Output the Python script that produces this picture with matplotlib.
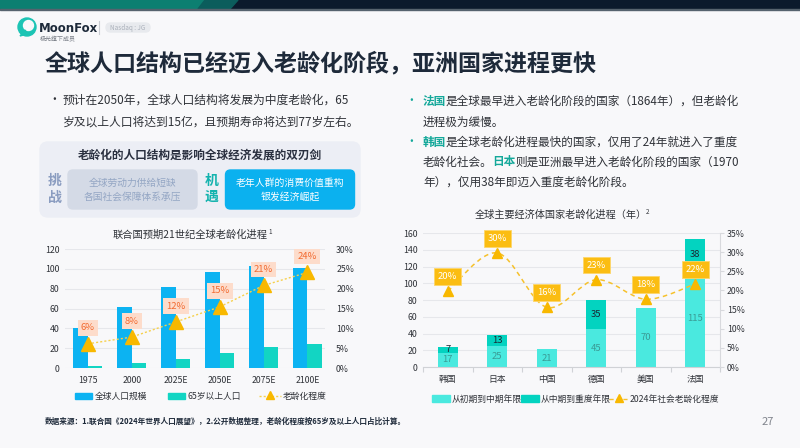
import numpy as np
import matplotlib.pyplot as plt
from matplotlib.patches import Rectangle, FancyBboxPatch, Polygon, Circle, PathPatch
from matplotlib.path import Path
from matplotlib.ticker import FuncFormatter

plt.rcParams['font.family'] = ['Noto Sans CJK SC', 'DejaVu Sans']
plt.rcParams['axes.unicode_minus'] = False

#%% Data

# left chart: UN outlook (population in 亿, ratio in %)
years = ['1975', '2000', '2025E', '2050E', '2075E', '2100E']
world_pop = [40, 62, 82, 97, 103, 101]
pop_65 = [2.4, 4.8, 9.2, 14.8, 21.2, 24.3]
aging_rate = [6.1, 7.8, 11.6, 15.4, 20.8, 24.1]

# right chart: years from stage to stage, 2024 aging ratio in %
countries = ['韩国', '日本', '中国', '德国', '美国', '法国']
early_to_mid = [17, 25, 21, 45, 70, 115]
mid_to_severe = [7, 13, 0, 35, 0, 38]
aging_2024 = [19.8, 29.8, 15.6, 22.8, 17.7, 21.7]

#%% Colours

dark = '#1e2a3a'
text_col = '#2f3238'
teal_txt = '#14a89a'
blue = '#0cb3f2'
green = '#12d5c3'
light_turq = '#4ae9df'
dark_turq = '#03d3c0'
amber = '#f8b800'
grid_col = '#e6e7eb'

chart_fs = 6.3

#%% Figure and pixel-coordinate background

W, H = 800, 448
fig = plt.figure(figsize=(W / 100, H / 100), dpi=100)
fig.patch.set_facecolor('#f8f8fa')
bg = fig.add_axes([0, 0, 1, 1])
bg.set_xlim(0, W)
bg.set_ylim(H, 0)
bg.axis('off')


def px_axes(x0, y0, x1, y1):
    # axes rectangle from pixel corners (top-left origin)
    return fig.add_axes([x0 / W, 1 - y1 / H, (x1 - x0) / W, (y1 - y0) / H])


# top bar
bg.add_patch(Rectangle((0, 0), W, 9, color='#0b1a2c', zorder=1))
bg.add_patch(Polygon([(0, 0), (205, 0), (198, 9), (0, 9)], closed=True,
                     color='#0c7f71', zorder=2))
bg.add_patch(Polygon([(205, 0), (238, 0), (230, 9), (198, 9)], closed=True,
                     color='#0b5d5c', zorder=2))
bg.add_patch(Rectangle((0, 9), W, 1.2, color='#56636e', zorder=2))

# logo
bg.add_patch(Circle((27, 27), 9, color='#1cc4b4', zorder=3))
bg.add_patch(Circle((28.5, 25.5), 5, color='#f8f8fa', zorder=4))
bg.add_patch(Polygon([(20, 36), (25, 30), (27, 34)], closed=True,
                     color='#1cc4b4', zorder=4))
bg.text(39, 28, 'MoonFox', fontsize=8.5, fontweight='bold', color=dark,
        va='center', ha='left', family=['DejaVu Sans'])
bg.text(40, 39.5, '极光旗下成员', fontsize=4.3, color='#777c85',
        va='center', ha='left')
bg.plot([98.5, 98.5], [21, 34], color='#c9ccd2', lw=0.8)
bg.add_patch(FancyBboxPatch((106, 23), 44, 9,
                            boxstyle='round,pad=0,rounding_size=4.5',
                            color='#e8eaee', zorder=3))
bg.text(128, 27.7, 'Nasdaq : JG', fontsize=4.6, color='#aab0ba',
        va='center', ha='center', zorder=4)

# title
bg.text(45, 63, '全球人口结构已经迈入老龄化阶段，亚洲国家进程更快',
        fontsize=16.6, fontweight='bold', color=dark, va='center', ha='left')

#%% Left text block

bg.text(48, 99.5, '•', fontsize=8.5, color=text_col, va='center', ha='left')
bg.text(63, 100, '预计在2050年，全球人口结构将发展为中度老龄化，65',
        fontsize=8.5, color=text_col, va='center', ha='left')
bg.text(63, 122, '岁及以上人口将达到15亿，且预期寿命将达到77岁左右。',
        fontsize=8.5, color=text_col, va='center', ha='left')

bg.add_patch(FancyBboxPatch((40, 142), 320, 75,
                            boxstyle='round,pad=0,rounding_size=8',
                            color='#eceef5', zorder=1))
bg.text(200, 155.5, '老龄化的人口结构是影响全球经济发展的双刃剑',
        fontsize=8.4, fontweight='bold', color='#2a3040',
        va='center', ha='center', zorder=3)
bg.text(55, 181.5, '挑', fontsize=10, fontweight='bold', color='#8a9cc0',
        va='center', ha='center', zorder=3)
bg.text(55, 198, '战', fontsize=10, fontweight='bold', color='#8a9cc0',
        va='center', ha='center', zorder=3)
bg.add_patch(FancyBboxPatch((68, 170), 129, 39,
                            boxstyle='round,pad=0,rounding_size=5',
                            color='#d4dae6', zorder=2))
bg.text(132.5, 183, '全球劳动力供给短缺', fontsize=7, color='#94a6c4',
        va='center', ha='center', zorder=3)
bg.text(132.5, 196.5, '各国社会保障体系承压', fontsize=7, color='#94a6c4',
        va='center', ha='center', zorder=3)
bg.text(212, 180.5, '机', fontsize=10, fontweight='bold', color='#14b3ae',
        va='center', ha='center', zorder=3)
bg.text(212, 197, '遇', fontsize=10, fontweight='bold', color='#14b3ae',
        va='center', ha='center', zorder=3)
bg.add_patch(FancyBboxPatch((225.5, 170), 129, 39,
                            boxstyle='round,pad=0,rounding_size=5',
                            color='#0bb1ef', zorder=2))
bg.text(290, 183, '老年人群的消费价值重构', fontsize=7.1, color='white',
        va='center', ha='center', zorder=3)
bg.text(290, 196.5, '银发经济崛起', fontsize=7.1, color='white',
        va='center', ha='center', zorder=3)

#%% Right text block (mixed colours)

body_fs = 8.4
em = body_fs * 100 / 72  # one full-width CJK character, in pixels


def rich_line(x, y, parts):
    # pieces are placed by counting full-width characters before them
    offset = 0
    for s, c, n_em, wt in parts:
        bg.text(x + offset * em - (0.8 if offset else 0), y, s,
                fontsize=body_fs, color=c, fontweight=wt,
                va='center', ha='left')
        offset += n_em


bg.text(405, 100.5, '•', fontsize=8.5, color=teal_txt, va='center', ha='left')
bg.text(405, 141.5, '•', fontsize=8.5, color=teal_txt, va='center', ha='left')
rich_line(423, 101, [('法国', teal_txt, 2, 'bold'),
                     ('是全球最早进入老龄化阶段的国家（1864年），但老龄化',
                      text_col, 0, 'normal')])
rich_line(423, 122, [('进程极为缓慢。', text_col, 0, 'normal')])
rich_line(423, 142, [('韩国', teal_txt, 2, 'bold'),
                     ('是全球老龄化进程最快的国家，仅用了24年就进入了重度',
                      text_col, 0, 'normal')])
rich_line(423, 162, [('老龄化社会。', text_col, 6, 'normal'),
                     ('日本', teal_txt, 2, 'bold'),
                     ('则是亚洲最早进入老龄化阶段的国家（1970',
                      text_col, 0, 'normal')])
rich_line(423, 182, [('年），仅用38年即迈入重度老龄化阶段。', text_col, 0, 'normal')])

#%% Left chart

bg.text(190, 234.5, '联合国预期21世纪全球老龄化进程', fontsize=7.4,
        color=text_col, va='center', ha='center')
bg.text(268, 231.5, '1', fontsize=4.5, color=text_col, va='center', ha='left')

ax1 = px_axes(65, 249, 325, 368)
ax1.set_facecolor('none')
x1 = np.arange(len(years))
ax1.bar(x1 - 0.165, world_pop, 0.33, color=blue, zorder=2)
ax1.bar(x1 + 0.165, pop_65, 0.33, color=green, zorder=2)
ax1.set_xlim(-0.52, 5.4)
ax1.set_ylim(0, 120)
ax1.set_yticks(np.arange(0, 121, 20))
ax1.set_xticks(x1)
ax1.set_xticklabels(years)
ax1.yaxis.grid(True, color=grid_col, lw=0.8)
ax1.set_axisbelow(True)
ax1.tick_params(axis='both', length=0, labelsize=chart_fs, labelcolor=text_col)
ax1.tick_params(axis='y', pad=4)
ax1.tick_params(axis='x', pad=6)
for s in ax1.spines.values():
    s.set_visible(False)

ax1r = ax1.twinx()
ax1r.set_ylim(0, 0.30)
ax1r.set_yticks(np.arange(0, 0.301, 0.05))
ax1r.yaxis.set_major_formatter(FuncFormatter(lambda v, p: f'{v * 100:.0f}%'))
ax1r.tick_params(axis='y', length=0, labelsize=chart_fs, labelcolor=text_col,
                 pad=8)
for s in ax1r.spines.values():
    s.set_visible(False)
rates1 = np.array(aging_rate) / 100
ax1r.plot(x1, rates1, ls=(0, (1.5, 1.5)), lw=1, color='#f6d04c', zorder=3)
ax1r.plot(x1, rates1, ls='none', marker='^', ms=10.5, color=amber, zorder=4)
for i, v in enumerate(aging_rate):
    ax1r.annotate(f'{v:.0f}%', (x1[i], v / 100), xytext=(0, 11.5),
                  textcoords='offset points', ha='center', va='center',
                  fontsize=6.8, color='#f26a30', zorder=5,
                  bbox=dict(boxstyle='square,pad=0.35', fc='#fddccb', ec='none'))

# left legend
bg.add_patch(Rectangle((75, 393), 17, 6.5, color=blue))
bg.text(95, 396, '全球人口规模', fontsize=chart_fs, color=text_col,
        va='center', ha='left')
bg.add_patch(Rectangle((168, 393), 17, 6.5, color=green))
bg.text(187.5, 396, '65岁以上人口', fontsize=chart_fs, color=text_col,
        va='center', ha='left')
bg.plot([259, 281], [396, 396], ls=(0, (1.5, 1.5)), lw=1, color='#f6d04c')
bg.plot([270], [395.5], marker='^', ms=6, color=amber)
bg.text(283, 396, '老龄化程度', fontsize=chart_fs, color=text_col,
        va='center', ha='left')

#%% Right chart

bg.text(475, 215, '全球主要经济体国家老龄化进程（年）', fontsize=7.3,
        color=text_col, va='center', ha='left')
bg.text(646, 212.5, '2', fontsize=4.5, color=text_col, va='center', ha='left')

ax2 = px_axes(423, 233, 720, 367)
ax2.set_facecolor('none')
x2 = np.arange(len(countries))
b_low = ax2.bar(x2, early_to_mid, 0.4, color=light_turq, zorder=2)
b_up = ax2.bar(x2, mid_to_severe, 0.4, bottom=early_to_mid, color=dark_turq,
               zorder=2)
ax2.bar_label(b_low, labels=[str(v) for v in early_to_mid], label_type='center',
              fontsize=6.8, color='#3a9b95')
ax2.bar_label(b_up, labels=[str(v) if v else '' for v in mid_to_severe],
              label_type='center', fontsize=6.8, color='#1b2733')
ax2.set_xlim(-0.5, 5.5)
ax2.set_ylim(0, 160)
ax2.set_yticks(np.arange(0, 161, 20))
ax2.set_xticks(x2)
ax2.set_xticklabels(countries)
ax2.set_xticks(np.arange(-0.5, 6, 1), minor=True)
ax2.yaxis.grid(True, color=grid_col, lw=0.8)
ax2.set_axisbelow(True)
ax2.tick_params(axis='both', which='major', length=0, labelsize=chart_fs,
                labelcolor=text_col)
ax2.tick_params(axis='x', which='major', pad=6)
ax2.tick_params(axis='y', pad=4)
ax2.tick_params(axis='x', which='minor', length=3.5, color='#d0d2d6', width=0.8)
for name, s in ax2.spines.items():
    s.set_visible(name == 'bottom')
ax2.spines['bottom'].set_color('#d0d2d6')
ax2.spines['bottom'].set_linewidth(0.8)

ax2r = ax2.twinx()
ax2r.set_ylim(0, 0.35)
ax2r.set_yticks(np.arange(0, 0.351, 0.05))
ax2r.yaxis.set_major_formatter(FuncFormatter(lambda v, p: f'{v * 100:.0f}%'))
ax2r.tick_params(axis='y', length=3, color='#d8d9dd', width=0.8,
                 labelsize=chart_fs, labelcolor=text_col, pad=2)
for name, s in ax2r.spines.items():
    s.set_visible(name == 'right')
ax2r.spines['right'].set_color('#d8d9dd')
ax2r.spines['right'].set_linewidth(0.8)

# smooth dashed curve through the 2024 ratios (Catmull-Rom as cubic Bezier)
pts = np.column_stack([x2, np.array(aging_2024) / 100])
verts = [pts[0]]
codes = [Path.MOVETO]
for i in range(len(pts) - 1):
    p0 = pts[max(i - 1, 0)]
    p1 = pts[i]
    p2 = pts[i + 1]
    p3 = pts[min(i + 2, len(pts) - 1)]
    verts += [p1 + (p2 - p0) / 6, p2 - (p3 - p1) / 6, p2]
    codes += [Path.CURVE4] * 3
ax2r.add_patch(PathPatch(Path(verts, codes), fc='none', ec='#f6c12c', lw=1.1,
                         ls=(0, (3, 2.5)), zorder=3))
ax2r.plot(x2, pts[:, 1], ls='none', marker='^', ms=7, color=amber, zorder=4)
for i, v in enumerate(aging_2024):
    ax2r.annotate(f'{v:.0f}%', (x2[i], v / 100), xytext=(0, 10.5),
                  textcoords='offset points', ha='center', va='center',
                  fontsize=6.8, color='white', zorder=5,
                  bbox=dict(boxstyle='square,pad=0.4', fc='#fbbd12',
                            ec='#fdd66a', lw=0.6))

# right legend
bg.add_patch(Rectangle((432, 395.5), 18, 7, color=light_turq))
bg.text(452, 399, '从初期到中期年限', fontsize=chart_fs, color=text_col,
        va='center', ha='left')
bg.add_patch(Rectangle((521, 395.5), 18, 7, color=dark_turq))
bg.text(541, 399, '从中期到重度年限', fontsize=chart_fs, color=text_col,
        va='center', ha='left')
bg.plot([609, 628], [399, 399], ls=(0, (3, 2)), lw=1, color='#f6c12c')
bg.plot([618.5], [398.5], marker='^', ms=5.5, color=amber)
bg.text(630, 399, '2024年社会老龄化程度', fontsize=chart_fs, color=text_col,
        va='center', ha='left')

#%% Footer

bg.text(45, 421, '数据来源：1.联合国《2024年世界人口展望》，2.公开数据整理，'
        '老龄化程度按65岁及以上人口占比计算。',
        fontsize=5.5, fontweight='bold', color=dark, va='center', ha='left')
bg.text(762, 422, '27', fontsize=8, color='#80848c', va='center', ha='left')

fig.savefig('out.png', dpi=100, facecolor=fig.get_facecolor())
